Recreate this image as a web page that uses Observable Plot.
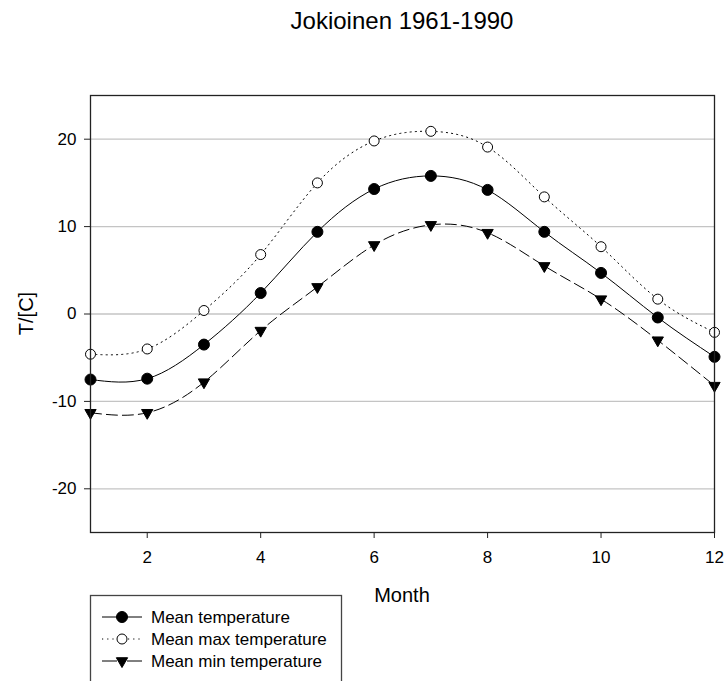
<!DOCTYPE html>
<html><head><meta charset="utf-8">
<script src="https://cdn.jsdelivr.net/npm/d3@7"></script>
<script src="https://cdn.jsdelivr.net/npm/@observablehq/plot@0.6"></script>
<style>
html,body{margin:0;padding:0;background:#fff;}
#chart{position:relative;width:725px;height:681px;overflow:hidden;}
</style>
</head><body><div id="chart"></div>
<script>
const titleText = "Jokioinen 1961-1990";
const xLabel = "Month";
const yLabel = "T/[C]";
const months = [1, 2, 3, 4, 5, 6, 7, 8, 9, 10, 11, 12];
const meanTemp = [-7.5, -7.4, -3.5, 2.4, 9.4, 14.3, 15.8, 14.2, 9.4, 4.7, -0.4, -4.9];
const maxTemp  = [-4.6, -4.0, 0.4, 6.8, 15.0, 19.8, 20.9, 19.1, 13.4, 7.7, 1.7, -2.1];
const minTemp  = [-11.3, -11.3, -7.8, -1.9, 3.1, 7.9, 10.2, 9.3, 5.5, 1.7, -3.0, -8.2];
const seriesNames = ["Mean temperature", "Mean max temperature", "Mean min temperature"];
const yTicks = [-20, -10, 0, 10, 20];
const xTicks = [2, 4, 6, 8, 10, 12];

const FONT = "'Liberation Sans', Arial, Helvetica, sans-serif";
const styles = [
  {dash: null, legendDash: null, symbol: "circle", fill: "#000", r: 5.5, rotate: 0},
  {dash: "1.2,4", legendDash: "1.2,4", symbol: "circle", fill: "#fff", r: 5, rotate: 0},
  {dash: "11,5", legendDash: "15,10", symbol: "triangle", fill: "#000", r: 4.2, rotate: 180}
];
const seriesValues = [meanTemp, maxTemp, minTemp];
const data = [];
seriesValues.forEach((vals, s) => vals.forEach((v, i) => data.push({series: seriesNames[s], month: months[i], t: v})));

const lineMarks = [];
seriesNames.forEach((name, s) => {
  const d = data.filter(e => e.series === name);
  const st = styles[s];
  lineMarks.push(Plot.line(d, {x: "month", y: "t", curve: "natural", stroke: "#000", strokeWidth: 1, strokeDasharray: st.dash}));
  lineMarks.push(Plot.dot(d, {x: "month", y: "t", symbol: st.symbol, r: st.r, fill: st.fill, stroke: "#000", strokeWidth: 1, rotate: st.rotate}));
});

const plot = Plot.plot({
  width: 725, height: 681,
  marginLeft: 90, marginRight: 11, marginTop: 95, marginBottom: 149,
  style: {fontFamily: FONT, fontSize: "17px", color: "#000", background: "#fff", overflow: "visible"},
  x: {domain: [1, 12], label: null},
  y: {domain: [-25, 25], label: null},
  marks: [
    Plot.gridY(yTicks, {stroke: "#c4c4c4", strokeOpacity: 1, strokeWidth: 1.3}),
    Plot.axisX(xTicks, {tickSize: 6, tickPadding: 12, label: null, stroke: "#222", fontSize: 17, tickFormat: d => String(d)}),
    Plot.axisY(yTicks, {tickSize: 6, tickPadding: 8, label: null, stroke: "#222", fontSize: 17, tickFormat: d => String(d)}),
    ...lineMarks,
    Plot.frame({stroke: "#222", strokeWidth: 1.3})
  ]
});
document.getElementById("chart").appendChild(plot);

const svg = d3.select(plot);
svg.append("text").attr("x", 402).attr("y", 29).attr("text-anchor", "middle")
  .style("font-family", FONT).style("font-size", "24px").attr("fill", "#000").text(titleText);
svg.append("text").attr("x", 402).attr("y", 602).attr("text-anchor", "middle")
  .style("font-family", FONT).style("font-size", "20px").attr("fill", "#000").text(xLabel);
svg.append("text").attr("transform", "translate(33,313.5) rotate(-90)").attr("text-anchor", "middle")
  .style("font-family", FONT).style("font-size", "20px").attr("fill", "#000").text(yLabel);

// legend
const lg = svg.append("g");
lg.append("rect").attr("x", 90.5).attr("y", 595.5).attr("width", 251).attr("height", 120)
  .attr("fill", "#fff").attr("stroke", "#444").attr("stroke-width", 1.3);
seriesNames.forEach((name, s) => {
  const y = 617 + s * 22;
  const st = styles[s];
  lg.append("line").attr("x1", 102).attr("x2", 142).attr("y1", y).attr("y2", y)
    .attr("stroke", "#000").attr("stroke-width", 1).attr("stroke-dasharray", st.legendDash);
  const sym = st.symbol === "circle" ? d3.symbolCircle : d3.symbolTriangle;
  lg.append("path").attr("d", d3.symbol(sym, Math.PI * st.r * st.r)())
    .attr("transform", `translate(122,${y}) rotate(${st.rotate})`)
    .attr("fill", st.fill).attr("stroke", "#000").attr("stroke-width", 1);
  lg.append("text").attr("x", 151).attr("y", y).attr("dy", "0.35em").attr("text-anchor", "start")
    .style("font-family", FONT).style("font-size", "17px").attr("fill", "#000").text(name);
});
</script>
</body></html>
